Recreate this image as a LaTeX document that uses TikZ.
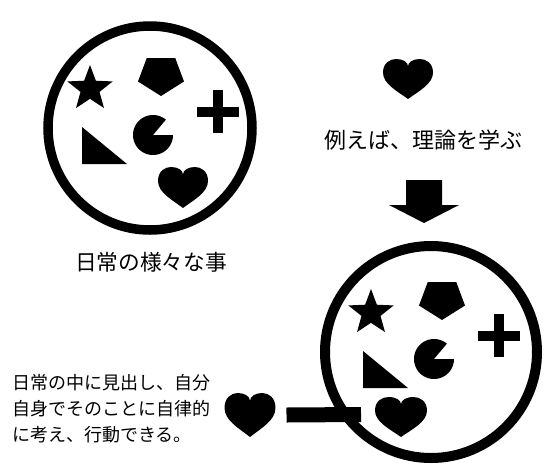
\documentclass[tikz,border=0pt]{standalone}
\usepackage{fontspec}
\newfontfamily\jp{Noto Sans CJK JP}
\begin{document}
\begin{tikzpicture}[x=1pt,y=-1pt,
  ring/.style={draw, circle, line width=9.5pt, inner sep=0pt, outer sep=0pt},
  heartbox/.style={inner sep=0pt, outer sep=0pt},
  jtext/.style={text=black, inner sep=0pt},
  heart/.pic={
    \fill (0,0.5) .. controls (-0.22,0.3) and (-0.5,0.12) .. (-0.5,-0.16)
      .. controls (-0.5,-0.4) and (-0.36,-0.5) .. (-0.24,-0.5)
      .. controls (-0.1,-0.5) and (0,-0.42) .. (0,-0.32)
      .. controls (0,-0.42) and (0.1,-0.5) .. (0.24,-0.5)
      .. controls (0.36,-0.5) and (0.5,-0.4) .. (0.5,-0.16)
      .. controls (0.5,0.12) and (0.22,0.3) .. (0,0.5) -- cycle;
  },
  things/.pic={
    % star
    \fill (-60,-39.2) +(-90:23.8)
      \foreach \k in {1,...,9}{ -- +({-90+36*\k}:{mod(\k,2)==0 ? 23.8 : 10}) } -- cycle;
    % pentagon
    \fill plot[samples at={90,162,234,306,18}, variable=\a] ({11+24.2*cos(\a)},{-53+21*sin(\a)}) -- cycle;
    % plus
    \fill (47,-21.5) rectangle (89,-11.3);
    \fill (62.7,-38) rectangle (73.3,5);
    % triangle
    \fill (-68,-1) -- (-68,36) -- (-23,36) -- cycle;
    % pac-man
    \fill (3,7) -- plot[domain=0:310, samples=62, variable=\t] ({3+20*cos(\t)},{7+20*sin(\t)}) -- cycle;
  }
]
\useasboundingbox (0,0) rectangle (546,464);

% circles
\node[ring, minimum size=204pt] (c1) at (150,128) {};
\node[ring, line width=10pt, minimum size=212pt] (c2) at (431,352) {};
\path (c1.center) pic{things};
\path (c2.center) pic{things};

% hearts
\node[heartbox, minimum width=50pt, minimum height=41pt] (h1) at (183,187.5) {};
\path (h1.center) pic[xscale=50, yscale=41]{heart};
\node[heartbox, minimum width=52pt, minimum height=40pt] (h2) at (401,417) {};
\path (h2.center) pic[xscale=52, yscale=40]{heart};
\node[heartbox, minimum width=50pt, minimum height=40pt] (ht) at (408,79) {};
\path (ht.center) pic[xscale=50, yscale=40]{heart};
\node[heartbox, minimum width=51pt, minimum height=44pt] (lh) at (250,415) {};
\path (lh.center) pic[xscale=51, yscale=44]{heart};

% texts
\node[jtext, font=\jp\fontsize{22}{26}\selectfont] (t1) at (423,140) {例えば、理論を学ぶ};
\node[jtext, font=\jp\fontsize{21.7}{26}\selectfont] (t2) at (151,262) {日常の様々な事};
\node[jtext, font=\jp\fontsize{18}{26}\selectfont, align=left, anchor=west] (t3) at (12,409)
  {日常の中に見出し、自分\\自身でそのことに自律的\\に考え、行動できる。};

% block arrow
\fill (406,180) -- (442,180) -- (442,205) -- (459,205) -- (424,223) -- (389,205) -- (406,205) -- cycle;

% bar from left heart into circle
\coordinate (barend) at (361,414.5);
\draw[line width=15pt] ([xshift=11pt]lh.east) -- (barend);
\end{tikzpicture}
\end{document}
